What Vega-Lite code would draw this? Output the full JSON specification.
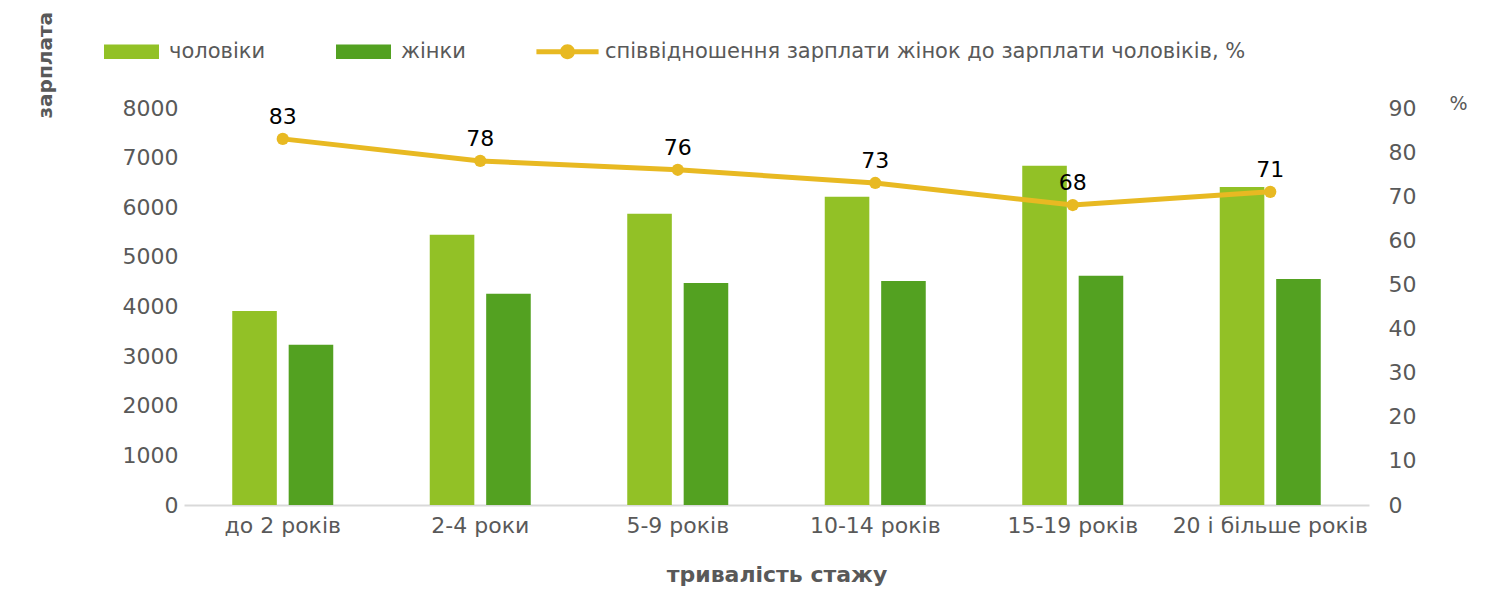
{
  "$schema": "https://vega.github.io/schema/vega-lite/v6.json",
  "width": 1185,
  "height": 397,
  "autosize": {"type": "none"},
  "padding": {"left": 184, "top": 108, "right": 122, "bottom": 105},
  "background": "white",
  "config": {
    "view": {"stroke": null},
    "font": "DejaVu Sans",
    "axis": {"grid": false, "ticks": false, "labelFont": "DejaVu Sans", "labelColor": "#595959", "titleFont": "DejaVu Sans", "titleColor": "#595959"}
  },
  "datasets": {
    "bars": [
      {"stazh": "до 2 років", "stat": "чоловіки", "zp": 3910},
      {"stazh": "до 2 років", "stat": "жінки", "zp": 3230},
      {"stazh": "2-4 роки", "stat": "чоловіки", "zp": 5445},
      {"stazh": "2-4 роки", "stat": "жінки", "zp": 4255},
      {"stazh": "5-9 років", "stat": "чоловіки", "zp": 5870},
      {"stazh": "5-9 років", "stat": "жінки", "zp": 4475},
      {"stazh": "10-14 років", "stat": "чоловіки", "zp": 6210},
      {"stazh": "10-14 років", "stat": "жінки", "zp": 4515},
      {"stazh": "15-19 років", "stat": "чоловіки", "zp": 6835},
      {"stazh": "15-19 років", "stat": "жінки", "zp": 4620},
      {"stazh": "20 і більше років", "stat": "чоловіки", "zp": 6410},
      {"stazh": "20 і більше років", "stat": "жінки", "zp": 4555}
    ],
    "ratio": [
      {"stazh": "до 2 років", "series": "співвідношення зарплати жінок до зарплати чоловіків, %", "r": 83},
      {"stazh": "2-4 роки", "series": "співвідношення зарплати жінок до зарплати чоловіків, %", "r": 78},
      {"stazh": "5-9 років", "series": "співвідношення зарплати жінок до зарплати чоловіків, %", "r": 76},
      {"stazh": "10-14 років", "series": "співвідношення зарплати жінок до зарплати чоловіків, %", "r": 73},
      {"stazh": "15-19 років", "series": "співвідношення зарплати жінок до зарплати чоловіків, %", "r": 68},
      {"stazh": "20 і більше років", "series": "співвідношення зарплати жінок до зарплати чоловіків, %", "r": 71}
    ]
  },
  "encoding": {
    "x": {
      "field": "stazh", "type": "nominal",
      "sort": ["до 2 років", "2-4 роки", "5-9 років", "10-14 років", "15-19 років", "20 і більше років"],
      "scale": {"paddingInner": 0.46, "paddingOuter": 0.23},
      "axis": {
        "title": "тривалість стажу", "titleFontSize": 22, "titleFontWeight": "bold", "titlePadding": 28,
        "labelAngle": 0, "labelFontSize": 22, "labelPadding": 10, "labelOverlap": false, "labelLimit": 0,
        "domain": true, "domainColor": "#D9D9D9", "domainWidth": 2
      }
    }
  },
  "layer": [
    {
      "data": {"name": "bars"},
      "mark": {"type": "bar"},
      "encoding": {
        "xOffset": {"field": "stat", "type": "nominal", "sort": ["чоловіки", "жінки"], "scale": {"paddingInner": 0.21, "paddingOuter": 0.05}},
        "y": {
          "field": "zp", "type": "quantitative",
          "scale": {"domain": [0, 8000]},
          "axis": {
            "values": [0, 1000, 2000, 3000, 4000, 5000, 6000, 7000, 8000], "format": "d",
            "domain": false, "labelFontSize": 22, "labelPadding": 6,
            "title": "зарплата", "titleFontSize": 20, "titleFontWeight": "bold",
            "titleAngle": -90, "titleX": -139, "titleY": 10, "titleAlign": "left", "titleBaseline": "middle"
          }
        },
        "color": {
          "field": "stat", "type": "nominal",
          "scale": {
            "domain": ["чоловіки", "жінки", "співвідношення зарплати жінок до зарплати чоловіків, %"],
            "range": ["#92C126", "#53A121", "#E8B922"]
          },
          "legend": {
            "orient": "none", "legendX": -80, "legendY": -84, "direction": "horizontal", "title": null,
            "symbolSize": 3025, "labelFontSize": 21, "labelColor": "#595959", "labelFont": "DejaVu Sans", "labelLimit": 0,
            "columnPadding": 70, "labelOffset": 10, "symbolStrokeWidth": 0,
            "encode": {
              "symbols": {
                "update": {
                  "shape": {"signal": "datum.value === 'співвідношення зарплати жінок до зарплати чоловіків, %' ? 'M-1.13,-0.09H1.13V0.09H-1.13Z M0.27,0A0.27,0.27 0 1,1 -0.27,0A0.27,0.27 0 1,1 0.27,0Z' : 'M-1,-0.26H1V0.26H-1Z'"},
                  "fill": {"scale": "color", "field": "value"},
                  "stroke": {"value": "transparent"},
                  "opacity": {"value": 1},
                  "fillOpacity": {"value": 1}
                }
              }
            }
          }
        }
      }
    },
    {
      "data": {"name": "ratio"},
      "encoding": {
        "y": {
          "field": "r", "type": "quantitative",
          "scale": {"domain": [0, 90]},
          "axis": {
            "orient": "right", "values": [0, 10, 20, 30, 40, 50, 60, 70, 80, 90],
            "domain": false, "labelFontSize": 22, "labelPadding": 19,
            "title": "%", "titleAngle": 0, "titleFontSize": 19, "titleFontWeight": "normal",
            "titleX": 89, "titleY": -5, "titleAlign": "center", "titleBaseline": "middle"
          }
        }
      },
      "layer": [
        {
          "mark": {"type": "line", "strokeWidth": 5, "point": {"size": 150, "filled": true, "opacity": 1}},
          "encoding": {
            "color": {"field": "series", "type": "nominal"}
          }
        },
        {
          "mark": {"type": "text", "dy": -15, "baseline": "alphabetic", "fontSize": 22, "fontWeight": "normal", "color": "#000000", "font": "DejaVu Sans"},
          "encoding": {
            "text": {"field": "r", "type": "quantitative"}
          }
        }
      ]
    }
  ],
  "resolve": {"scale": {"y": "independent"}}
}
